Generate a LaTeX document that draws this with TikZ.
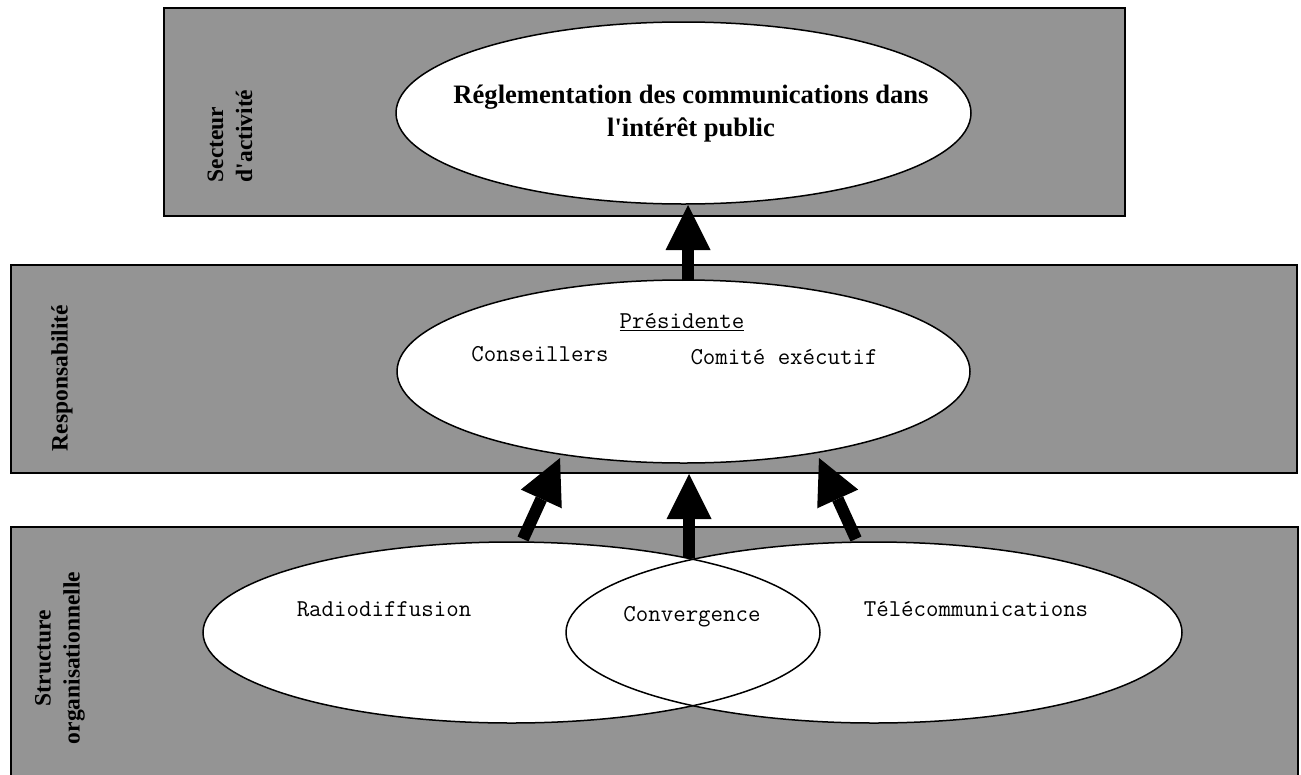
\documentclass[tikz,border=0pt]{standalone}
\usepackage{fontspec}
\setmainfont{Liberation Serif}
\usetikzlibrary{shapes.geometric,arrows.meta}
\definecolor{panelgray}{RGB}{148,148,148}
\begin{document}
\begin{tikzpicture}[x=1pt,y=-1pt,
  panel/.style={rectangle, draw=black, line width=2pt, fill=panelgray, inner sep=0pt, outer sep=0pt},
  oval/.style={ellipse, draw=black, line width=1.5pt, fill=white, inner sep=0pt, outer sep=0pt},
  sidelabel/.style={rotate=90, font=\bfseries\fontsize{23.5}{29}\selectfont, inner sep=0pt},
  monotext/.style={font=\ttfamily\fontsize{24.2}{28}\selectfont, inner sep=0pt},
  fat/.style={line width=12pt, -{Triangle[length=45pt, width=45pt, line width=0pt]}}]
\useasboundingbox (0,0) rectangle (1301,774);
% panels
\node[panel, minimum width=961pt, minimum height=208pt] (top) at (644.5,112) {};
\node[panel, minimum width=1286pt, minimum height=208pt] (mid) at (654,369) {};
\node[panel, minimum width=1287pt, minimum height=273pt] (bot) at (654.5,663.5) {};
% ellipses
\node[oval, minimum width=575pt, minimum height=182pt] (e1) at (683.5,113) {};
\node[oval, minimum width=573pt, minimum height=183pt] (e2) at (683.5,371.5) {};
\node[ellipse, fill=white, inner sep=0pt, minimum width=617pt, minimum height=181pt] (e3) at (511.5,632.5) {};
\node[ellipse, fill=white, inner sep=0pt, minimum width=616pt, minimum height=181pt] (e4) at (874,632.5) {};
\node[oval, fill=none, minimum width=617pt, minimum height=181pt] (e3b) at (511.5,632.5) {};
\node[oval, fill=none, minimum width=616pt, minimum height=181pt] (e4b) at (874,632.5) {};
% side labels
\node[sidelabel, align=left] (l1) at (230,136) {Secteur\\d\textquotesingle activité};
\node[sidelabel] (l2) at (62,378) {Responsabilité};
\node[sidelabel, align=center] (l3) at (60,658) {Structure\\organisationnelle};
% texts
\node[font=\bfseries\fontsize{26.6}{33}\selectfont, align=center, inner sep=0pt] (t1) at (691,114) {Réglementation des communications dans\\l\textquotesingle intérêt public};
\node[monotext] (pres) at (682,322) {\underline{Présidente}};
\node[monotext] (cons) at (540,354) {Conseillers};
\node[monotext] (comi) at (784,357) {Comité exécutif};
\node[monotext] (radio) at (384,609) {Radiodiffusion};
\node[monotext] (conv) at (692,617) {Convergence};
\node[monotext] (tele) at (976,609) {Télécommunications};
% arrows
\coordinate (a1s) at (688,281);
\coordinate (a1e) at (688,205);
\coordinate (a2s) at (689,558);
\coordinate (a2e) at (689,474);
\coordinate (a3s) at (523,539);
\coordinate (a3e) at (560,458);
\coordinate (a4s) at (856,539);
\coordinate (a4e) at (819,458);
\draw[fat] (a1s) -- (a1e);
\draw[fat] (a2s) -- (a2e);
\draw[fat] (a3s) -- (a3e);
\draw[fat] (a4s) -- (a4e);
\end{tikzpicture}
\end{document}
